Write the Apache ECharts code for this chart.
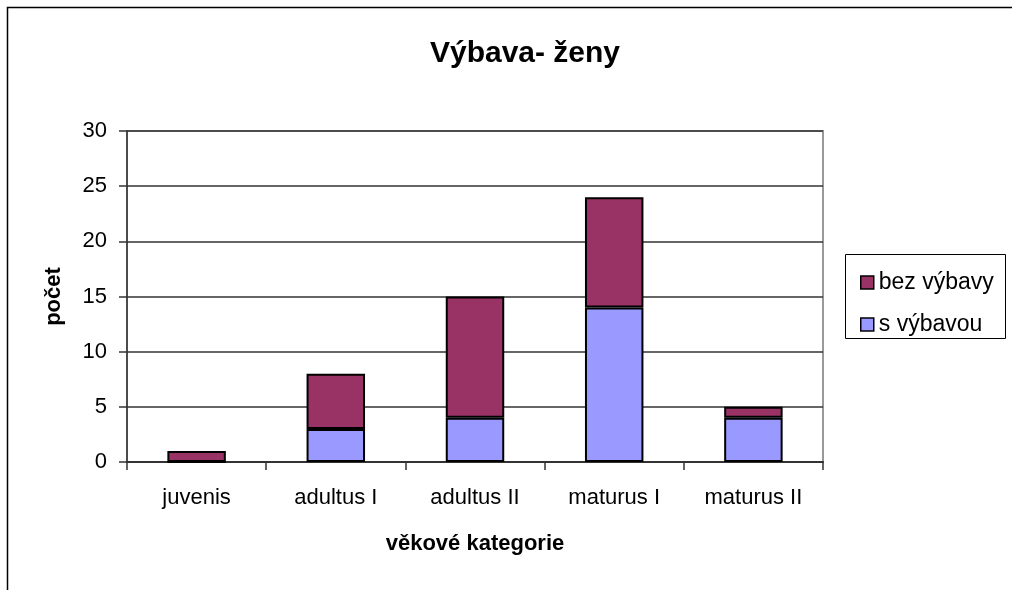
<!DOCTYPE html>
<html>
<head>
<meta charset="utf-8">
<script src="https://cdn.jsdelivr.net/npm/echarts@6/dist/echarts.min.js"></script>
<style>
  html, body { margin: 0; padding: 0; background: #fff; }
  #chart { width: 1012px; height: 590px; }
</style>
</head>
<body>
<div id="chart"></div>
<script>
const categories = ['juvenis', 'adultus I', 'adultus II', 'maturus I', 'maturus II'];
const sVybavou = [0, 3, 4, 14, 4];
const bezVybavy = [1, 5, 11, 10, 1];

const font = 'Liberation Sans, Arial, sans-serif';
const chart = echarts.init(document.getElementById('chart'));

chart.setOption({
  backgroundColor: '#fff',
  animation: false,
  textStyle: { fontFamily: font },
  title: {
    text: 'Výbava- ženy',
    left: 520,
    top: 34,
    textAlign: 'center',
    textStyle: { fontSize: 30, fontWeight: 'bold', color: '#000', fontFamily: font }
  },
  graphic: [
    {
      type: 'rect',
      shape: { x: 7.5, y: 7.5, width: 1020, height: 600 },
      style: { fill: 'none', stroke: '#000', lineWidth: 1.5 },
      silent: true
    },
    {
      type: 'rect',
      shape: { x: 845.5, y: 254.5, width: 160, height: 84 },
      style: { fill: 'none', stroke: '#000', lineWidth: 1 },
      silent: true
    }
  ],
  legend: {
    orient: 'vertical',
    left: 855,
    top: 266,
    itemGap: 19,
    itemWidth: 13,
    itemHeight: 13,
    icon: 'rect',
    data: ['bez výbavy', 's výbavou'],
    itemStyle: { borderColor: '#000', borderWidth: 1.5 },
    textStyle: { fontSize: 23, color: '#000', fontFamily: font, padding: [0, 0, 0, 0] }
  },
  grid: {
    left: 127,
    right: 189,
    top: 131,
    bottom: 128,
    show: true,
    borderColor: '#999',
    borderWidth: 2
  },
  xAxis: {
    type: 'category',
    data: categories,
    name: 'věkové kategorie',
    nameLocation: 'middle',
    nameGap: 71,
    nameTextStyle: { fontSize: 22, fontWeight: 'bold', color: '#000', fontFamily: font },
    axisLine: { lineStyle: { color: '#333', width: 2 } },
    axisTick: { show: true, length: 8, lineStyle: { color: '#333', width: 1.5 } },
    axisLabel: { fontSize: 22, color: '#000', margin: 25, fontFamily: font }
  },
  yAxis: {
    type: 'value',
    min: 0,
    max: 30,
    interval: 5,
    name: 'počet',
    nameLocation: 'middle',
    nameGap: 62,
    nameTextStyle: { fontSize: 22, fontWeight: 'bold', color: '#000', fontFamily: font },
    axisLine: { show: true, lineStyle: { color: '#333', width: 1.5 } },
    axisTick: { show: true, length: 8, lineStyle: { color: '#333', width: 1.5 } },
    axisLabel: { fontSize: 22, color: '#000', margin: 20, fontFamily: font },
    splitLine: { lineStyle: { color: '#333', width: 1.5 } }
  },
  series: [
    {
      name: 's výbavou',
      type: 'bar',
      stack: 'total',
      data: sVybavou,
      barWidth: '42%',
      itemStyle: { color: '#9999FF', borderColor: '#000', borderWidth: 2 }
    },
    {
      name: 'bez výbavy',
      type: 'bar',
      stack: 'total',
      data: bezVybavy,
      barWidth: '42%',
      itemStyle: { color: '#993366', borderColor: '#000', borderWidth: 2 }
    }
  ]
});
</script>
</body>
</html>
